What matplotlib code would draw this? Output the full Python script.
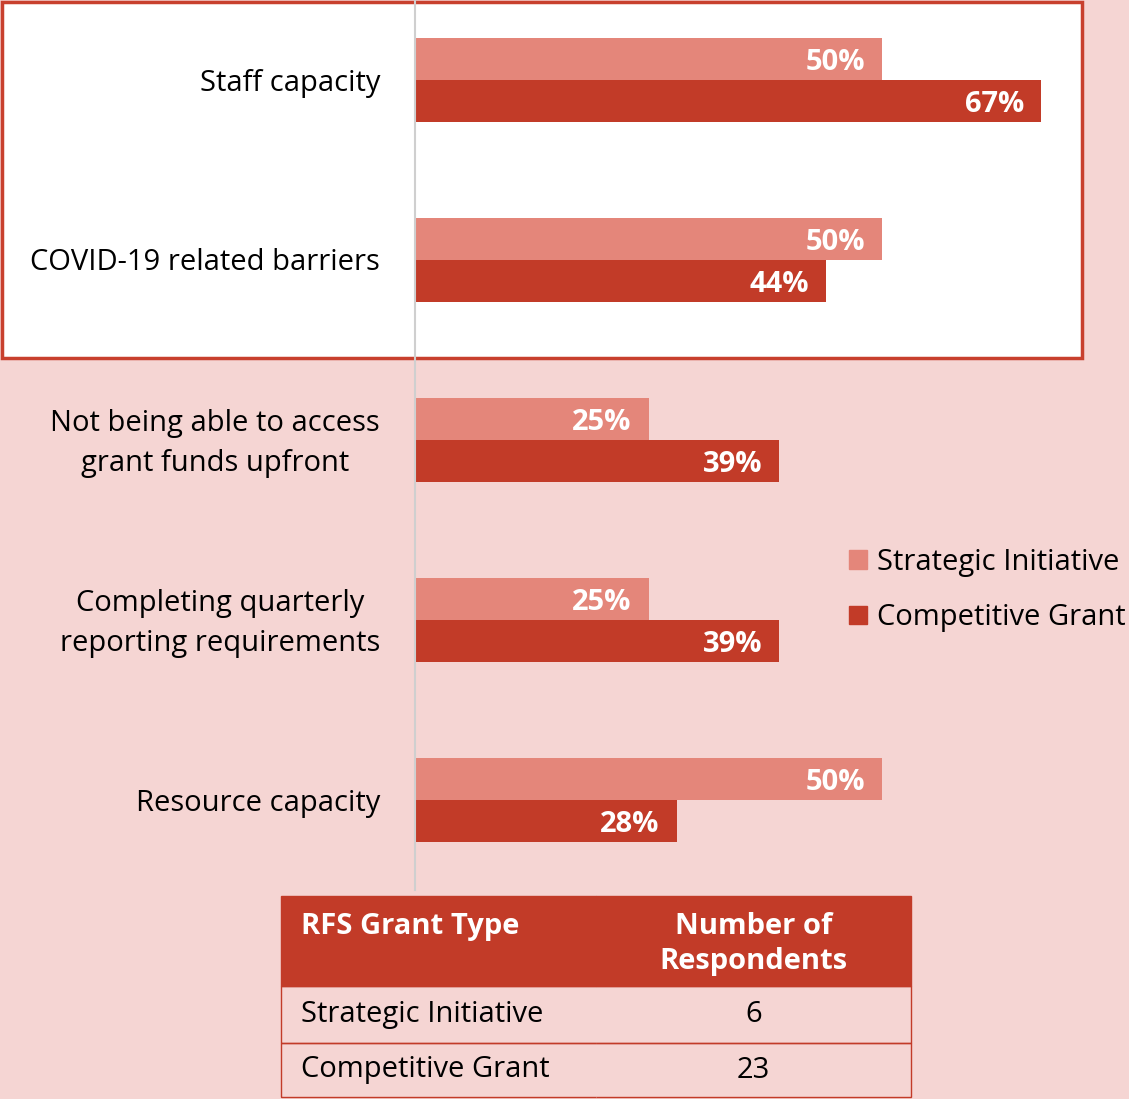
import numpy as np
import matplotlib.pyplot as plt
from matplotlib.patches import Rectangle, Patch
from matplotlib.transforms import ScaledTranslation, IdentityTransform

plt.rcParams['font.family'] = ['Open Sans', 'DejaVu Sans']

categories = ['Staff capacity', 'COVID-19 related barriers',
              'Not being able to access\ngrant funds upfront',
              'Completing quarterly\nreporting requirements',
              'Resource capacity']
strategic = [50, 50, 25, 25, 50]
competitive = [67, 44, 39, 39, 28]
series_names = ['Strategic Initiative', 'Competitive Grant']

table_header = ['RFS Grant Type\n', 'Number of\nRespondents']
table_rows = [['Strategic Initiative', '6'],
              ['Competitive Grant', '23']]

bg = '#F5D5D3'
light = '#E4867A'
dark = '#C23B28'
W, H = 1129, 1099
fs = 21

fig = plt.figure(figsize=(W / 100, H / 100), dpi=100, facecolor=bg)
down3 = ScaledTranslation(0, -0.03, fig.dpi_scale_trans)

# white highlight box around first two categories
box = Rectangle((2 / W, 1 - 358 / H), 1080 / W, 356 / H, transform=fig.transFigure,
                facecolor='white', edgecolor='#C8402E', linewidth=2.5, zorder=-1)
fig.add_artist(box)

ax = fig.add_axes([415 / W, 1 - 890 / H, (W - 415) / W, 890 / H])
ax.set_facecolor('none')
ax.set_xlim(0, (W - 415) / 9.34)
ax.set_ylim(4.5, -80 / 180)

y = np.arange(len(categories))
h = 0.236
ax.barh(y - h / 2, strategic, height=h, color=light, label=series_names[0])
ax.barh(y + h / 2, competitive, height=h, color=dark, label=series_names[1])

for i in range(len(categories)):
    ax.text(strategic[i] - 1.8, y[i] - h / 2 + 0.02, f'{strategic[i]}%', ha='right', va='center',
            color='white', fontsize=fs, fontweight='bold')
    ax.text(competitive[i] - 1.8, y[i] + h / 2 + 0.02, f'{competitive[i]}%', ha='right', va='center',
            color='white', fontsize=fs, fontweight='bold')

# category labels, left of the axis line
label_trans = ax.get_yaxis_transform() + ScaledTranslation(-0.35, -0.03, fig.dpi_scale_trans)
for i, cat in enumerate(categories):
    ax.text(0, y[i], cat, transform=label_trans, ha='right', va='center',
            multialignment='center', linespacing=1.5, fontsize=fs)

ax.set_yticks([])
ax.set_xticks([])
for s in ['top', 'right', 'bottom']:
    ax.spines[s].set_visible(False)
ax.spines['left'].set_color('#CFCFCF')
ax.spines['left'].set_linewidth(1.5)

handles = [Patch(color=light), Patch(color=dark)]
fig.legend(handles, series_names, loc='center left', bbox_to_anchor=(849 / W, 1 - 590 / H),
           frameon=False, fontsize=fs, handlelength=0.6, handleheight=0.6,
           handletextpad=0.35, labelspacing=0.9, borderaxespad=0, borderpad=0)

# table of respondents
tax = fig.add_axes([281 / W, 2 / H, 630 / W, 201 / H])
tax.axis('off')
tbl = tax.table(cellText=table_rows, colLabels=table_header, bbox=[0, 0, 1, 1])
tbl.auto_set_font_size(False)
tbl.set_fontsize(fs)
heights = [90, 57, 54]
for (r, c), cell in tbl.get_celld().items():
    cell.set_height(heights[r])
    cell.set_edgecolor(dark)
    cell.set_linewidth(1)
    cell.PAD = 0.065
    txt = cell.get_text()
    txt.set_linespacing(1.3)
    if r == 0:
        cell.set_facecolor(dark)
        txt.set_color('white')
        txt.set_fontweight('bold')
        txt.set_transform(IdentityTransform() + down3)
    else:
        cell.visible_edges = 'BLT' if c == 0 else 'BRT'
        cell.set_facecolor('none')
    if c == 0:
        cell._loc = 'left'
        txt.set_ha('left')
    else:
        cell._loc = 'center'
        txt.set_ha('center')

fig.savefig('out.png', dpi=100, facecolor=bg)
